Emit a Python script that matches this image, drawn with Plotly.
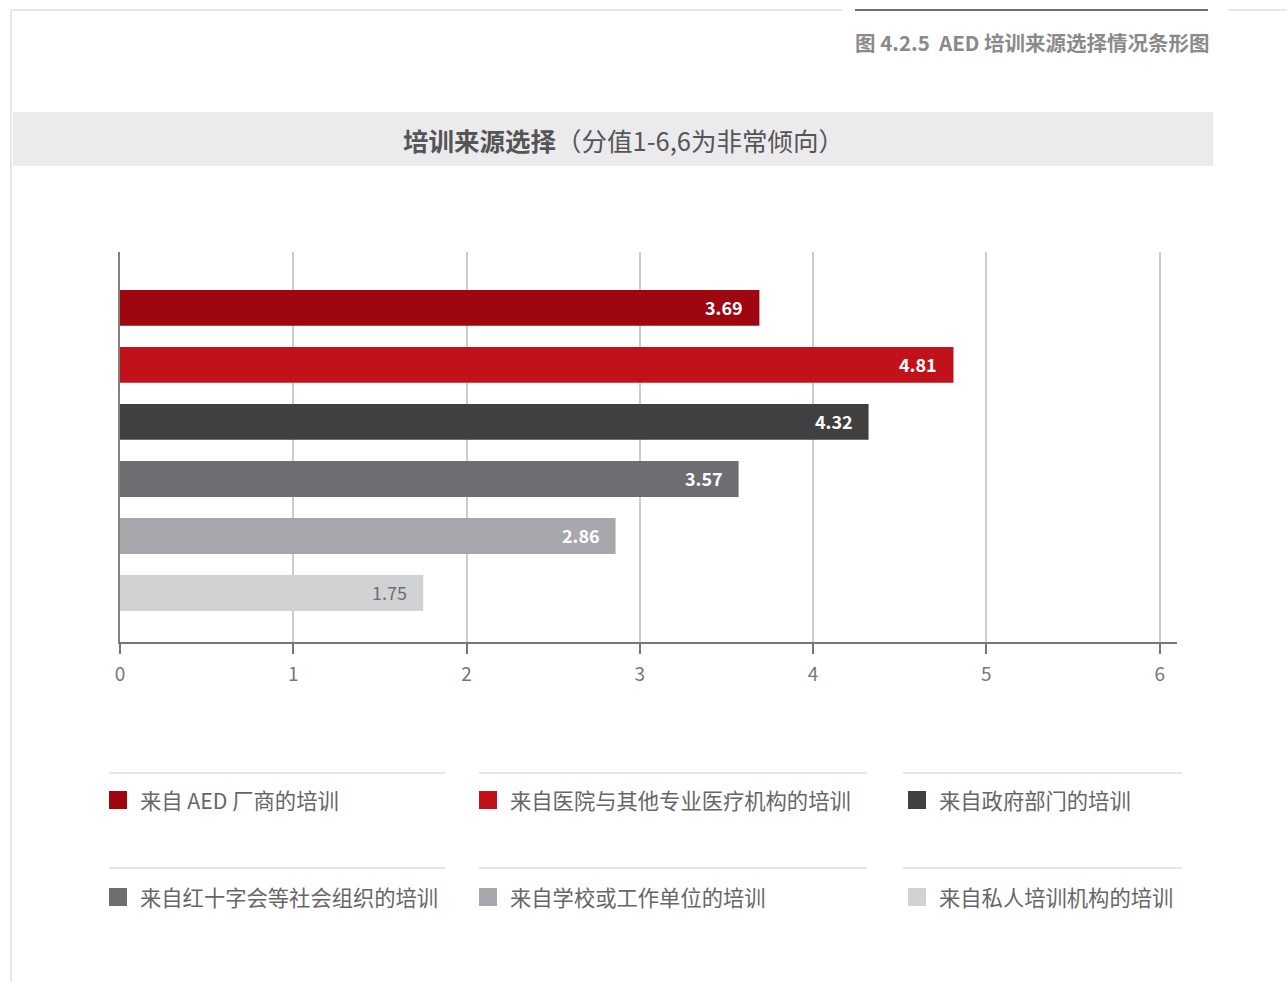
import plotly.graph_objects as go

categories = ["来自 AED 厂商的培训", "来自医院与其他专业医疗机构的培训", "来自政府部门的培训",
              "来自红十字会等社会组织的培训", "来自学校或工作单位的培训", "来自私人培训机构的培训"]
values = [3.69, 4.81, 4.32, 3.57, 2.86, 1.75]
colors = ["#9e0610", "#c1121b", "#404040", "#6d6e71", "#a7a8ab", "#d1d2d4"]
label_colors = ["#ffffff", "#ffffff", "#ffffff", "#ffffff", "#ffffff", "#6d6e71"]
tick_vals = [0, 1, 2, 3, 4, 5, 6]
title_text = "<b>培训来源选择</b>（分值1-6,6为非常倾向）"
caption_text = "<b>图 4.2.5  AED 培训来源选择情况条形图</b>"

W, H = 1287, 982
L, R, T, B = 120, 1177, 252, 642
FONT = "Noto Sans CJK SC"


def px(x):
    return (x - L) / (R - L)


def py(y):
    return (B - y) / (B - T)


fig = go.Figure()
fig.add_trace(go.Bar(
    x=values, y=categories, orientation="h",
    marker=dict(color=colors, line=dict(width=0)),
    width=0.63, hoverinfo="skip", showlegend=False,
))

annotations = []
for v, c, lc, i in zip(values, categories, label_colors, range(len(values))):
    annotations.append(dict(
        x=v, y=c, xref="x", yref="y", text=(f"<b>{v:.2f}</b>" if i < 5 else f"{v:.2f}"),
        showarrow=False, xanchor="right", xshift=-14, yshift=1,
        font=dict(family=FONT, size=18, color=lc),
    ))

# title and caption
annotations.append(dict(x=px(623), y=py(140), xref="paper", yref="paper", text=title_text,
                        showarrow=False, xanchor="center", yanchor="middle",
                        font=dict(family=FONT, size=25.5, color="#555555")))
annotations.append(dict(x=px(1212), y=py(42), xref="paper", yref="paper", text=caption_text,
                        showarrow=False, xanchor="right", yanchor="middle",
                        font=dict(family=FONT, size=20.5, color="#8a8a8a")))

shapes = []
# frame lines
shapes.append(dict(type="line", xref="paper", yref="paper", x0=px(11), x1=px(11), y0=py(10), y1=py(982),
                   line=dict(color="#e0e0e0", width=1.5)))
shapes.append(dict(type="line", xref="paper", yref="paper", x0=px(11), x1=px(842), y0=py(10), y1=py(10),
                   line=dict(color="#e0e0e0", width=1.5)))
shapes.append(dict(type="line", xref="paper", yref="paper", x0=px(855), x1=px(1208), y0=py(10), y1=py(10),
                   line=dict(color="#6e6e6e", width=2)))
shapes.append(dict(type="line", xref="paper", yref="paper", x0=px(1228), x1=px(1287), y0=py(10), y1=py(10),
                   line=dict(color="#e0e0e0", width=1.5)))
# title band
shapes.append(dict(type="rect", xref="paper", yref="paper", x0=px(13), x1=px(1213), y0=py(112), y1=py(166),
                   fillcolor="#ebebed", line=dict(width=0), layer="below"))

# custom legend
cols = [(109, 445, 140), (479, 867, 510), (903, 1182, 939)]
rows = [(773, 800), (868, 897)]
for i, (cat, col) in enumerate(zip(categories, colors)):
    r, k = divmod(i, 3)
    lx0, lx1, tx = cols[k]
    ly, ty = rows[r]
    sq0 = lx0 if k < 2 else lx0 + 5
    shapes.append(dict(type="line", xref="paper", yref="paper", x0=px(lx0), x1=px(lx1), y0=py(ly), y1=py(ly),
                       line=dict(color="#dedede", width=1.5)))
    shapes.append(dict(type="rect", xref="paper", yref="paper", x0=px(sq0), x1=px(sq0 + 18),
                       y0=py(ty - 9), y1=py(ty + 9), fillcolor=col, line=dict(width=0)))
    annotations.append(dict(x=px(tx - 2), y=py(ty - 1), xref="paper", yref="paper", text=cat, showarrow=False,
                            xanchor="left", yanchor="middle",
                            font=dict(family=FONT, size=21.3, color="#666666")))

fig.update_layout(
    width=W, height=H,
    margin=dict(l=L, r=W - R, t=T, b=H - B, pad=0),
    paper_bgcolor="white", plot_bgcolor="white",
    font=dict(family=FONT, color="#777777"),
    xaxis=dict(range=[0, 6.1], tickvals=tick_vals, ticktext=[str(t) for t in tick_vals],
               showgrid=True, gridcolor="#cccccc", gridwidth=2, zeroline=False,
               showline=True, linecolor="#777777", linewidth=2,
               ticks="outside", ticklen=10, tickcolor="#777777", tickwidth=1.5,
               ticklabelstandoff=4,
               tickfont=dict(family=FONT, size=19, color="#777777"), fixedrange=True),
    yaxis=dict(categoryorder="array", categoryarray=categories, range=[5.86, -0.98],
               showticklabels=False, showgrid=False, zeroline=False,
               showline=True, linecolor="#808080", linewidth=2, ticks="", fixedrange=True),
    shapes=shapes, annotations=annotations, bargap=0.37,
)

fig.write_html("out.html")
